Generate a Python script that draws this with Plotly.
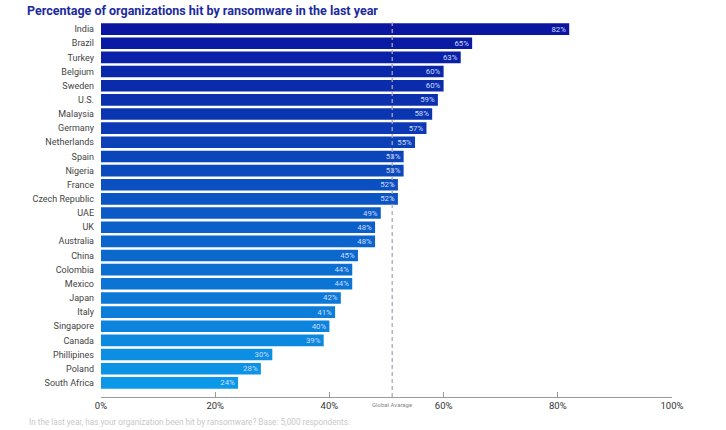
import plotly.graph_objects as go

countries = ["India", "Brazil", "Turkey", "Belgium", "Sweden", "U.S.", "Malaysia", "Germany",
             "Netherlands", "Spain", "Nigeria", "France", "Czech Republic", "UAE", "UK",
             "Australia", "China", "Colombia", "Mexico", "Japan", "Italy", "Singapore",
             "Canada", "Phillipines", "Poland", "South Africa"]
values = [82, 65, 63, 60, 60, 59, 58, 57, 55, 53, 53, 52, 52, 49, 48, 48, 45, 44, 44, 42,
          41, 40, 39, 30, 28, 24]
global_average = 51
x_ticks = [0, 20, 40, 60, 80, 100]
x_tick_labels = ["0%", "20%", "40%", "60%", "80%", "100%"]

# colour gradient from dark navy to light blue
c0 = (10, 22, 160)
c1 = (12, 152, 232)
n = len(countries)
colors = []
for i in range(n):
    t = i / (n - 1)
    r, g, b = (round(c0[k] + (c1[k] - c0[k]) * t) for k in range(3))
    colors.append(f"rgb({r},{g},{b})")

L, R, T, B = 101, 54, 22, 33
W, H = 726, 430
pw, ph = W - L - R, H - T - B

fig = go.Figure(go.Bar(
    x=values, y=countries, orientation="h",
    marker=dict(color=colors, line=dict(width=0)),
    width=0.82,
    text=[f"{v}%" for v in values], textposition="inside", insidetextanchor="end",
    textfont=dict(size=7.8, color="#cfdcff", family="Roboto"),
    hoverinfo="skip",
))

fig.add_shape(type="line", x0=global_average, x1=global_average, y0=0, y1=1, yref="paper",
              line=dict(color="#a8a8b8", width=1.3, dash="4px,3px"), layer="above")

fig.add_annotation(x=global_average, y=0, yref="paper", yanchor="top", yshift=-2,
                   text="Global Avarage", showarrow=False,
                   font=dict(size=6, color="#888888", family="Roboto"))

fig.add_annotation(x=(27 - L) / pw, xref="paper", xanchor="left", y=-(422 - (H - B)) / ph,
                   yref="paper", yanchor="middle",
                   text="In the last year, has your organization been hit by ransomware? Base: 5,000 respondents.",
                   showarrow=False, font=dict(size=8.2, color="#c8c8c8", family="Roboto"))

fig.update_layout(
    width=W, height=H,
    margin=dict(l=L, r=R, t=T, b=B),
    paper_bgcolor="white", plot_bgcolor="white",
    showlegend=False,
    uniformtext=dict(minsize=7.8, mode="show"),
    title=dict(text="<b>Percentage of organizations hit by ransomware in the last year</b>",
               x=27 / W, xanchor="left", y=1 - 11 / H, yanchor="middle",
               font=dict(size=12.5, color="#1b2a9e", family="Roboto")),
    xaxis=dict(range=[0, 100], tickvals=x_ticks, ticktext=x_tick_labels,
               showgrid=False, zeroline=False, showline=True, linecolor="#9a9a9a",
               linewidth=1, ticks="inside", ticklen=5, tickcolor="#9a9a9a",
               tickfont=dict(size=9.5, color="#333333", family="Roboto"),
               fixedrange=True),
    yaxis=dict(categoryorder="array", categoryarray=countries, range=[26.0, -0.5],
               showgrid=False, zeroline=False, showline=False, ticks="",
               ticklabelstandoff=6,
               tickfont=dict(size=9, color="#444444", family="Roboto"),
               fixedrange=True),
)

fig.write_html("out.html")
